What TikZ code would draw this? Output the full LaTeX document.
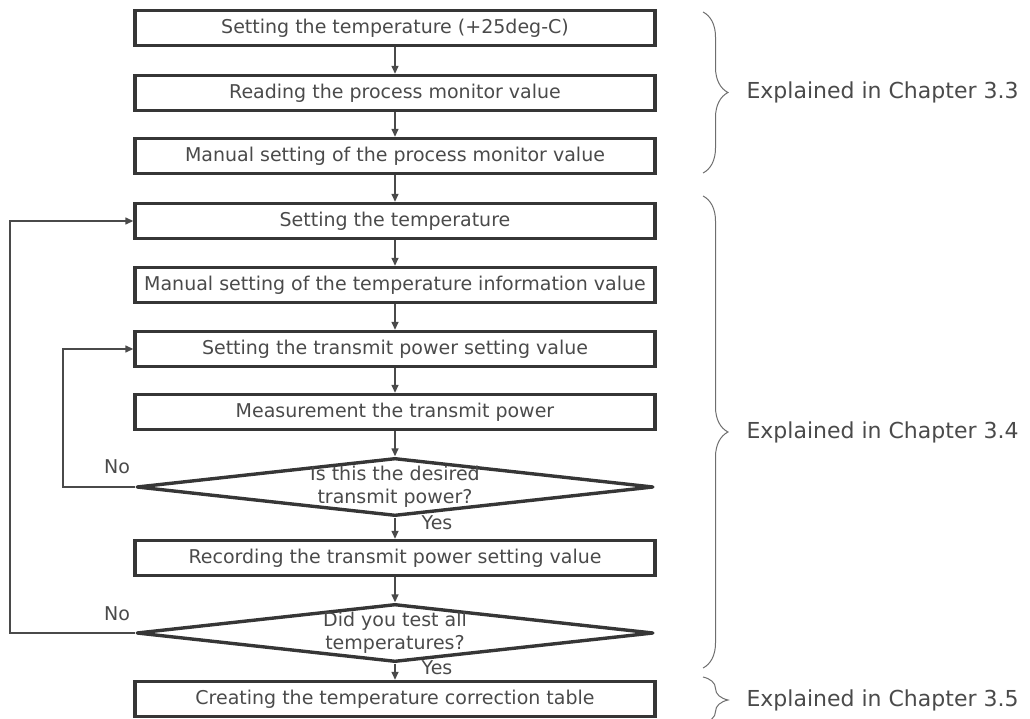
\documentclass[tikz,border=0pt]{standalone}
\usepackage{fontspec}
\setmainfont{DejaVu Sans}
\usetikzlibrary{shapes.geometric,arrows.meta,decorations.pathreplacing}
\definecolor{boxline}{HTML}{363636}
\definecolor{txt}{HTML}{4A4A4A}
\definecolor{bracecol}{HTML}{6E6E6E}
\begin{document}
\begin{tikzpicture}[x=1pt,y=-1pt,
  stepbox/.style={draw=boxline,line width=3.4pt,minimum width=520pt,minimum height=35pt,inner sep=0pt,text=txt,font=\fontsize{19}{23}\selectfont},
  decision/.style={draw=boxline,line width=3.4pt,line join=round,diamond,minimum width=517pt,minimum height=58pt,inner sep=0pt},
  flow/.style={draw=txt,line width=1.4pt,-{Triangle[length=8pt,width=7pt]}},
  answer/.style={text=txt,font=\fontsize{19}{23}\selectfont},
  chapbrace/.style={draw=bracecol,line width=1pt,decorate,decoration={brace,amplitude=25pt}},
  chap/.style={anchor=west,text=txt,font=\fontsize{22}{26}\selectfont}]
\useasboundingbox (0,0) rectangle (1030,719);
\node[stepbox] (1) at (395,28) {Setting the temperature (+25deg-C)};
\node[stepbox] (2) at (395,93) {Reading the process monitor value};
\node[stepbox] (3) at (395,156) {Manual setting of the process monitor value};
\node[stepbox] (4) at (395,221) {Setting the temperature};
\node[stepbox] (5) at (395,285) {Manual setting of the temperature information value};
\node[stepbox] (6) at (395,349) {Setting the transmit power setting value};
\node[stepbox] (7) at (395,412) {Measurement the transmit power};
\node[decision,label={[answer,align=center]center:Is this the desired\\transmit power?}] (8) at (395,487) {};
\node[stepbox] (9) at (395,558) {Recording the transmit power setting value};
\node[decision,label={[answer,align=center]center:Did you test all\\temperatures?}] (10) at (395,633) {};
\node[stepbox] (11) at (395,699) {Creating the temperature correction table};

\node[answer] (no1) at (117,467) {No};
\node[answer] (yes1) at (437,523) {Yes};
\node[answer] (no2) at (117,614) {No};
\node[answer] (yes2) at (437,668) {Yes};

\coordinate (inner) at (63,0);
\coordinate (outer) at (10,0);

\path[flow] (1) -- (2);
\path[flow] (2) -- (3);
\path[flow] (3) -- (4);
\path[flow] (4) -- (5);
\path[flow] (5) -- (6);
\path[flow] (6) -- (7);
\path[flow] (7) -- (8);
\path[flow] (8) -- (9);
\path[flow] (9) -- (10);
\path[flow] (10) -- (11);
\path[flow] (8.west) -- (8.west -| inner) |- (6.west);
\path[flow] (10.west) -- (10.west -| outer) |- (4.west);

% chapter braces
\coordinate (b1) at (703,12);
\coordinate (e1) at (703,173);
\coordinate (b2) at (703,196);
\coordinate (e2) at (703,668);
\coordinate (b3) at (703,677);
\coordinate (e3) at (703,723);
\path[chapbrace] (b1) -- (e1);
\path[chapbrace] (b2) -- (e2);
\path[chapbrace] (b3) -- (e3);
\node[chap] (c1) at (743,92) {Explained in Chapter 3.3};
\node[chap] (c2) at (743,432) {Explained in Chapter 3.4};
\node[chap] (c3) at (743,700) {Explained in Chapter 3.5};
\end{tikzpicture}
\end{document}
